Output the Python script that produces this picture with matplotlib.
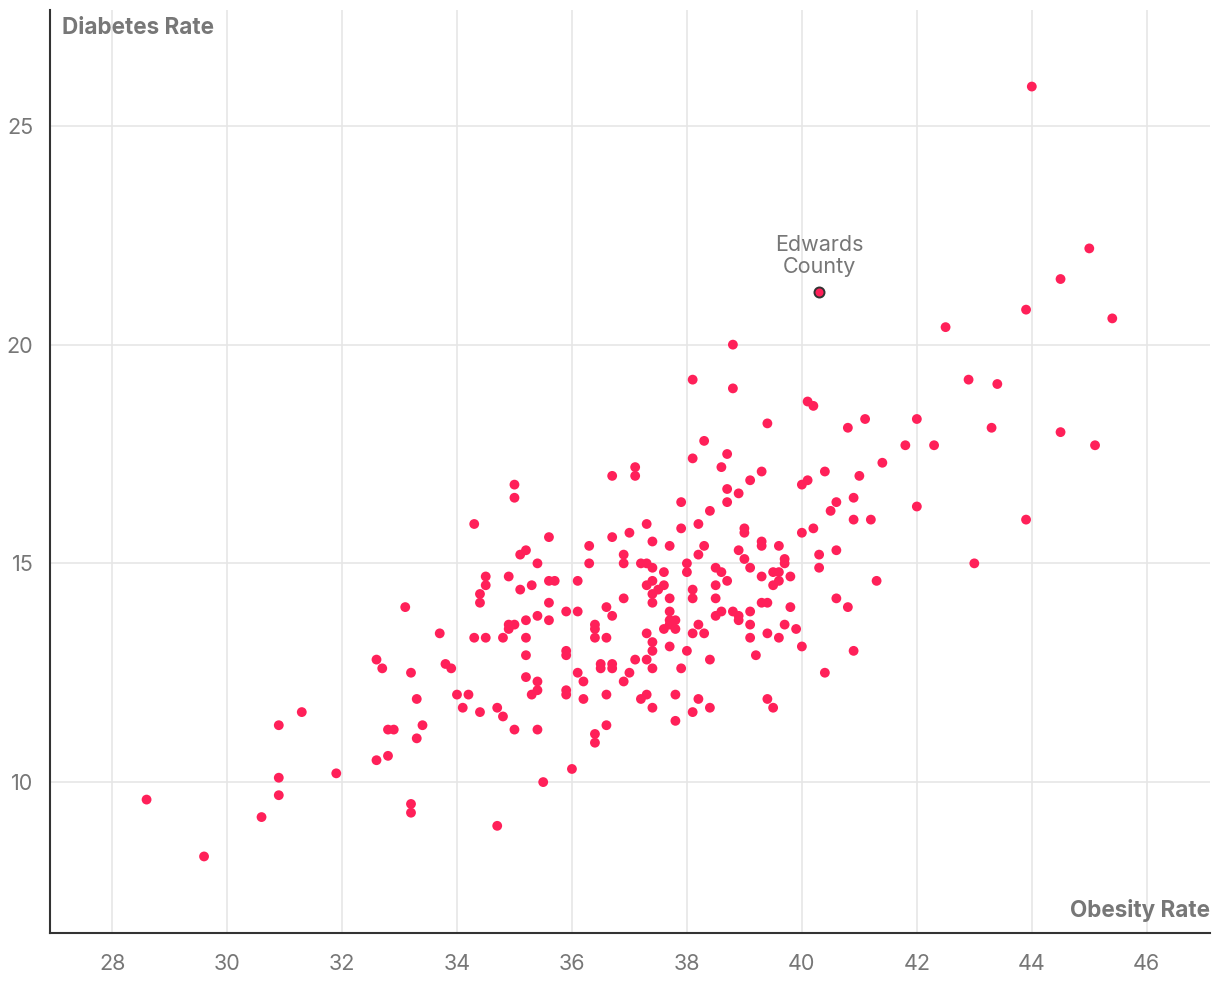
import matplotlib
matplotlib.use("Agg")
import matplotlib.pyplot as plt

plt.rcParams['font.family'] = ['Inter', 'DejaVu Sans']

obesity = [
    28.6, 29.6, 30.6, 30.9, 30.9, 30.9, 31.3, 31.9, 32.6, 32.7, 32.6, 32.8, 32.9, 32.8,
    33.1, 33.2, 33.3, 33.2, 33.2, 33.3, 33.4, 33.7, 33.8, 33.9, 34.0, 34.1, 34.2, 34.3,
    34.3, 34.4, 34.4, 34.5, 34.5, 34.5, 34.4, 34.7, 34.7, 34.8, 34.8, 34.9, 34.9, 34.9,
    35.0, 35.0, 35.0, 35.0, 35.1, 35.1, 35.2, 35.2, 35.2, 35.2, 35.2, 35.3, 35.3, 35.4,
    35.4, 35.4, 35.4, 35.4, 35.5, 35.6, 35.6, 35.6, 35.6, 35.7, 35.9, 35.9, 35.9, 35.9,
    35.9, 36.0, 36.1, 36.1, 36.1, 36.2, 36.2, 36.3, 36.3, 36.4, 36.4, 36.4, 36.4, 36.4,
    36.5, 36.5, 36.6, 36.6, 36.6, 36.6, 36.7, 36.7, 36.7, 36.7, 36.7, 36.9, 36.9, 36.9,
    36.9, 37.0, 37.0, 37.1, 37.1, 37.1, 37.2, 37.2, 37.3, 37.3, 37.3, 37.3, 37.3, 37.3,
    37.4, 37.4, 37.4, 37.4, 37.4, 37.4, 37.4, 37.4, 37.4, 37.5, 37.6, 37.6, 37.6, 37.7,
    37.7, 37.7, 37.7, 37.7, 37.7, 37.8, 37.8, 37.8, 37.8, 37.9, 37.9, 37.9, 38.0, 38.0,
    38.0, 38.1, 38.1, 38.1, 38.1, 38.1, 38.1, 38.2, 38.2, 38.2, 38.2, 38.3, 38.3, 38.3,
    38.4, 38.4, 38.4, 38.5, 38.5, 38.5, 38.5, 38.6, 38.6, 38.6, 38.7, 38.7, 38.7, 38.7,
    38.8, 38.8, 38.8, 38.9, 38.9, 38.9, 38.9, 39.0, 39.0, 39.0, 39.1, 39.1, 39.1, 39.1,
    39.1, 39.2, 39.3, 39.3, 39.3, 39.3, 39.3, 39.4, 39.4, 39.4, 39.4, 39.5, 39.5, 39.5,
    39.6, 39.6, 39.6, 39.6, 39.7, 39.7, 39.7, 39.8, 39.8, 39.9, 40.0, 40.0, 40.0, 40.1,
    40.1, 40.2, 40.2, 40.3, 40.3, 40.4, 40.4, 40.5, 40.6, 40.6, 40.6, 40.8, 40.8, 40.9,
    40.9, 40.9, 41.0, 41.1, 41.2, 41.3, 41.4, 41.8, 42.0, 42.0, 42.3, 42.5, 42.9, 43.0,
    43.3, 43.4, 43.9, 43.9, 44.0, 44.5, 44.5, 45.0, 45.1, 45.4,
]
diabetes = [
    9.6, 8.3, 9.2, 11.3, 10.1, 9.7, 11.6, 10.2, 12.8, 12.6, 10.5, 11.2, 11.2, 10.6,
    14.0, 12.5, 11.9, 9.5, 9.3, 11.0, 11.3, 13.4, 12.7, 12.6, 12.0, 11.7, 12.0, 15.9,
    13.3, 14.3, 14.1, 14.7, 14.5, 13.3, 11.6, 11.7, 9.0, 11.5, 13.3, 14.7, 13.6, 13.5,
    16.8, 16.5, 13.6, 11.2, 15.2, 14.4, 15.3, 13.7, 13.3, 12.9, 12.4, 14.5, 12.0, 15.0,
    13.8, 12.3, 12.1, 11.2, 10.0, 15.6, 14.6, 14.1, 13.7, 14.6, 13.9, 13.0, 12.9, 12.1,
    12.0, 10.3, 14.6, 13.9, 12.5, 12.3, 11.9, 15.4, 15.0, 13.6, 13.5, 13.3, 11.1, 10.9,
    12.7, 12.6, 14.0, 13.3, 12.0, 11.3, 17.0, 15.6, 13.8, 12.7, 12.6, 15.2, 15.0, 14.2,
    12.3, 15.7, 12.5, 17.2, 17.0, 12.8, 15.0, 11.9, 15.9, 15.0, 14.5, 13.4, 12.8, 12.0,
    15.5, 14.9, 14.6, 14.3, 14.1, 13.2, 13.0, 12.6, 11.7, 14.4, 14.8, 14.5, 13.5, 15.4,
    14.2, 13.9, 13.7, 13.6, 13.1, 13.7, 13.5, 12.0, 11.4, 16.4, 15.8, 12.6, 15.0, 14.8,
    13.0, 19.2, 17.4, 14.4, 14.2, 13.4, 11.6, 15.9, 15.2, 13.6, 11.9, 17.8, 15.4, 13.4,
    16.2, 12.8, 11.7, 14.9, 14.5, 14.2, 13.8, 17.2, 14.8, 13.9, 17.5, 16.7, 16.4, 14.6,
    20.0, 19.0, 13.9, 16.6, 15.3, 13.8, 13.7, 15.8, 15.7, 15.1, 16.9, 14.9, 13.9, 13.6,
    13.3, 12.9, 17.1, 15.5, 15.4, 14.7, 14.1, 18.2, 14.1, 13.4, 11.9, 11.7, 14.8, 14.5,
    15.4, 14.8, 14.6, 13.3, 15.1, 15.0, 13.6, 14.7, 14.0, 13.5, 16.8, 15.7, 13.1, 18.7,
    16.9, 18.6, 15.8, 15.2, 14.9, 17.1, 12.5, 16.2, 16.4, 15.3, 14.2, 18.1, 14.0, 16.5,
    16.0, 13.0, 17.0, 18.3, 16.0, 14.6, 17.3, 17.7, 18.3, 16.3, 17.7, 20.4, 19.2, 15.0,
    18.1, 19.1, 20.8, 16.0, 25.9, 21.5, 18.0, 22.2, 17.7, 20.6,
]

highlight_name = "Edwards\nCounty"
highlight_x = 40.3
highlight_y = 21.2

x_ticks = [28, 30, 32, 34, 36, 38, 40, 42, 44, 46]
y_ticks = [10, 15, 20, 25]

dot = '#ff2059'
grey = '#777777'

fig = plt.figure(figsize=(12.2, 10.06), dpi=100)
ax = fig.add_axes([50 / 1220, 73 / 1006, 1160 / 1220, 923 / 1006])

ax.scatter(obesity, diabetes, s=50, color=dot, edgecolors='none', zorder=3)
ax.scatter([highlight_x], [highlight_y], s=52, color=dot, edgecolors='#333333',
           linewidths=1.4, zorder=4)
ax.annotate(highlight_name, (highlight_x, highlight_y), xytext=(0, 11),
            textcoords='offset points', ha='center', va='bottom',
            fontsize=15.5, color=grey, linespacing=1.1)

ax.set_xlim(26.92, 47.1)
ax.set_ylim(6.55, 27.65)
ax.set_xticks(x_ticks)
ax.set_yticks(y_ticks)
ax.grid(True, color='#e6e6e6', linewidth=1.2, zorder=0)
ax.set_axisbelow(True)

for side in ['top', 'right']:
    ax.spines[side].set_visible(False)
for side in ['left', 'bottom']:
    ax.spines[side].set_color('#333333')
    ax.spines[side].set_linewidth(1.5)

ax.tick_params(length=0, labelsize=15.5, labelcolor=grey)
ax.tick_params(axis='x', pad=15)
ax.tick_params(axis='y', pad=12)

ax.text(0.01, 0.992, "Diabetes Rate", transform=ax.transAxes, ha='left', va='top',
        fontsize=16.2, fontweight='bold', color=grey)
ax.text(1.0, 0.012, "Obesity Rate", transform=ax.transAxes, ha='right', va='bottom',
        fontsize=16.2, fontweight='bold', color=grey)

fig.savefig('out.png', dpi=100)
